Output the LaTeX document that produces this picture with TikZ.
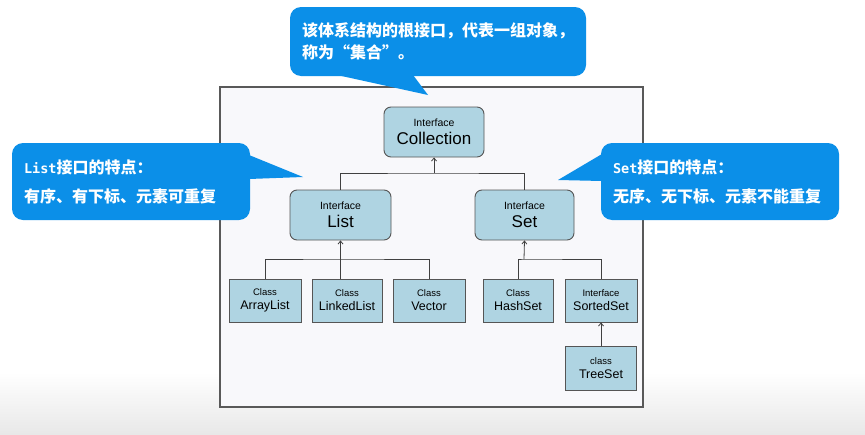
\documentclass[tikz,border=0pt]{standalone}
\usepackage{fontspec}
\setmainfont{Liberation Sans}
\newfontfamily\cjk{Noto Sans CJK SC}
\newfontfamily\monof{DejaVu Sans Mono}
\usetikzlibrary{arrows.meta}
\definecolor{callblue}{HTML}{0B8FE8}
\definecolor{boxfill}{HTML}{AFD4E2}
\definecolor{boxline}{HTML}{555555}
\definecolor{framefill}{HTML}{F8F8FB}
\definecolor{linegray}{HTML}{404040}
\tikzset{
  ibox/.style={draw=boxline, line width=0.9pt, fill=boxfill, rounded corners=7pt, inner sep=0pt, align=center, font=\fontsize{10.5pt}{18.5pt}\selectfont},
  cbox/.style={draw=boxline, line width=0.9pt, fill=boxfill, inner sep=0pt, align=center, minimum height=43pt, font=\fontsize{9.5pt}{14pt}\selectfont},
  conn/.style={draw=linegray, line width=0.8pt},
  arr/.style={conn, -{Straight Barb[length=3pt,width=5pt]}},
  callout/.style={fill=callblue, rounded corners=11pt, text=white, inner sep=0pt, font=\cjk\bfseries\fontsize{16pt}{22pt}\selectfont, align=left},
}
\newcommand{\itxt}[2]{#1\\{\fontsize{17pt}{18.5pt}\selectfont #2}}
\newcommand{\ctxt}[2]{#1\\{\fontsize{12.5pt}{14pt}\selectfont #2}}
\begin{document}
\begin{tikzpicture}[x=1pt,y=-1pt]
\useasboundingbox (0,0) rectangle (865,434);
\fill[white] (0,0) rectangle (865,434);
\shade[top color=white, bottom color=black!9] (0,372) rectangle (865,434);
% frame
\draw[fill=framefill, draw=black!65, line width=1.2pt] (220,87) rectangle (643,407);

% interface boxes
\node[ibox, minimum width=100pt, minimum height=50pt] (coll) at (434,132) {\itxt{Interface}{Collection}};
\node[ibox, minimum width=101pt, minimum height=50pt] (list) at (340.5,215) {\itxt{Interface}{List}};
\node[ibox, minimum width=99pt, minimum height=50pt] (set) at (524.5,215) {\itxt{Interface}{Set}};

% class boxes
\node[cbox, minimum width=72pt] (al) at (265,300.5) {\ctxt{Class}{ArrayList}};
\node[cbox, minimum width=70pt] (ll) at (347,300.5) {\ctxt{Class}{LinkedList}};
\node[cbox, minimum width=72pt] (vec) at (429,300.5) {\ctxt{Class}{Vector}};
\node[cbox, minimum width=70pt] (hs) at (518,300.5) {\ctxt{Class}{HashSet}};
\node[cbox, minimum width=72pt] (ss) at (601,300.5) {\ctxt{Interface}{SortedSet}};
\node[cbox, minimum width=71pt, minimum height=44pt] (ts) at (601,368) {\ctxt{class}{TreeSet}};

% connectors
\coordinate (j1) at (434,173);
\coordinate (j2) at (340,259);
\coordinate (j3) at (524,259);
\draw[conn] (list.north) |- (j1) -| (set.north);
\draw[arr] (j1) -- (coll.south);
\draw[conn] (al.north) |- (j2) -| (vec.north);
\draw[arr] (list.south |- ll.north) -- (list.south);
\draw[conn] (hs.north) |- (j3) -| (ss.north);
\draw[arr] (j3) -- (set.south);
\draw[arr] (ts.north) -- (ss.south);

% callouts
\node[callout, minimum width=296pt, minimum height=69pt, text width=272pt] (ctop) at (438,41.5)
  {该体系结构的根接口，代表一组对象，\\称为“集合”。};
\fill[callblue] (337,75) -- (428,95) -- (413,75) -- cycle;

\node[callout, minimum width=238pt, minimum height=77pt, text width=214pt, font=\cjk\bfseries\fontsize{16pt}{29pt}\selectfont] (cleft) at (131,181.5)
  {{\monof\bfseries\fontsize{13.5pt}{29pt}\selectfont List}接口的特点：\\有序、有下标、元素可重复};
\fill[callblue] (249,155) -- (303,177) -- (249,179) -- cycle;

\node[callout, minimum width=238pt, minimum height=77pt, text width=214pt, font=\cjk\bfseries\fontsize{16pt}{29pt}\selectfont] (cright) at (720,181.5)
  {{\monof\bfseries\fontsize{13.5pt}{29pt}\selectfont Set}接口的特点：\\无序、无下标、元素不能重复};
\fill[callblue] (602,154) -- (558,180) -- (602,181) -- cycle;
\end{tikzpicture}
\end{document}
